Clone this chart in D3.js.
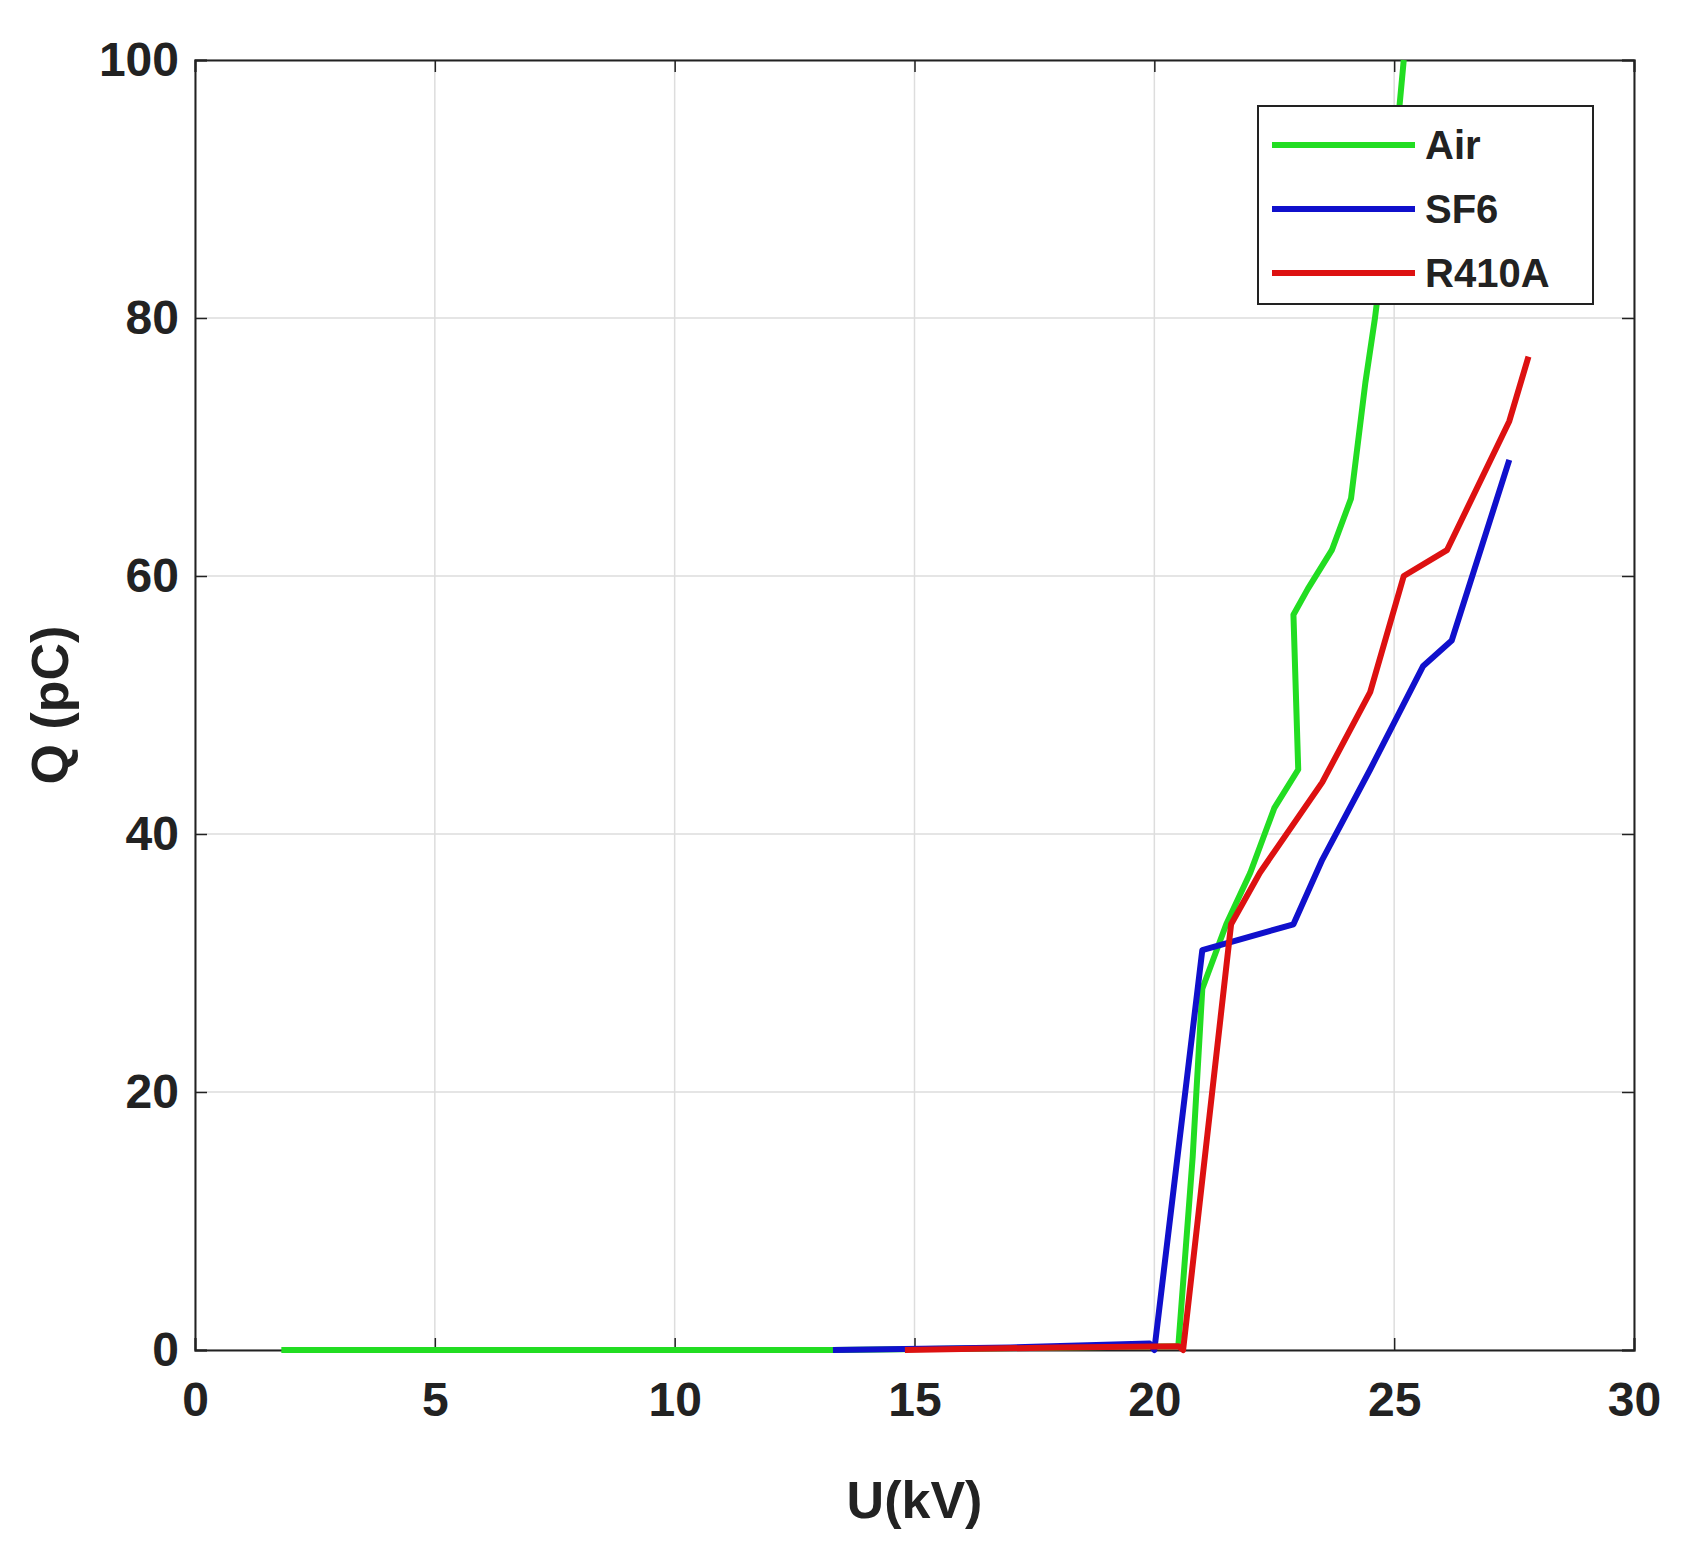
<!DOCTYPE html><html><head><script src="https://cdn.jsdelivr.net/npm/d3@7"></script>
<style>body{margin:0;background:#fff}text{font-family:"Liberation Sans",Arial,sans-serif;font-weight:bold;fill:#222}</style></head><body>
<svg id="c" width="1693" height="1553"></svg>
<script>
const xTicks=[0,5,10,15,20,25,30];
const yTicks=[0,20,40,60,80,100];
const airX=[1.8,13.3,20.5,20.8,21.0,21.5,22.0,22.5,23.0,22.9,23.2,23.7,24.1,24.4,24.6,25.0,25.2];
const airY=[0,0,0.3,15,28,33,37,42,45,57,59,62,66,75,80,92,100];
const sf6X=[13.3,17,19.9,20.0,21.0,22.9,23.5,24.5,25.6,26.2,27.4];
const sf6Y=[0,0.2,0.5,0,31,33,38,45,53,55,69];
const r410X=[14.8,18,20.5,20.6,21.6,22.2,23.5,24.5,25.2,26.1,27.4,27.8];
const r410Y=[0,0.2,0.3,0,33,37,44,51,60,62,72,77];
const names=["Air","SF6","R410A"], colors=["#22dd22","#1010cc","#dd1111"];
const series=[[airX,airY],[sf6X,sf6Y],[r410X,r410Y]];
const svg=d3.select("#c"),L=195,R=1634,T=60,B=1350;
const x=d3.scaleLinear().domain([0,30]).range([L,R]);
const y=d3.scaleLinear().domain([0,100]).range([B,T]);
const g=svg.append("g");
g.selectAll(".gx").data(xTicks).join("line").attr("x1",d=>x(d)).attr("x2",d=>x(d)).attr("y1",T).attr("y2",B).attr("stroke","#ddd").attr("stroke-width",1.5);
g.selectAll(".gy").data(yTicks).join("line").attr("y1",d=>y(d)).attr("y2",d=>y(d)).attr("x1",L).attr("x2",R).attr("stroke","#ddd").attr("stroke-width",1.5);
svg.append("g").attr("transform",`translate(0,${B})`).call(d3.axisBottom(x).tickValues(xTicks).tickSize(-12).tickPadding(32));
svg.append("g").attr("transform",`translate(${L},0)`).call(d3.axisLeft(y).tickValues(yTicks).tickSize(-12).tickPadding(16));
svg.append("g").attr("transform",`translate(0,${T})`).call(d3.axisTop(x).tickValues(xTicks).tickSize(-12).tickFormat(""));
svg.append("g").attr("transform",`translate(${R},0)`).call(d3.axisRight(y).tickValues(yTicks).tickSize(-12).tickFormat(""));
svg.selectAll(".domain").attr("stroke","#222").attr("stroke-width",2);
svg.selectAll(".tick line").attr("stroke","#222").attr("stroke-width",1.5);
svg.selectAll(".tick text").style("font-size","48px").style("font-family","Liberation Sans").style("font-weight","bold").attr("fill","#222");
const line=d3.line();
series.forEach((s,i)=>{svg.append("path").attr("d",line(s[0].map((v,j)=>[x(v),y(s[1][j])]))).attr("fill","none").attr("stroke",colors[i]).attr("stroke-width",6).attr("stroke-linejoin","round");});
svg.append("text").attr("x",(L+R)/2).attr("y",1518).attr("text-anchor","middle").style("font-size","52px").text("U(kV)");
svg.append("text").attr("transform",`translate(68,${(T+B)/2}) rotate(-90)`).attr("text-anchor","middle").style("font-size","52px").text("Q (pC)");
const lg=svg.append("g");
lg.append("rect").attr("x",1258).attr("y",106).attr("width",335).attr("height",198).attr("fill","#fff").attr("stroke","#222").attr("stroke-width",2);
names.forEach((n,i)=>{const yy=145+i*64;lg.append("line").attr("x1",1272).attr("x2",1415).attr("y1",yy).attr("y2",yy).attr("stroke",colors[i]).attr("stroke-width",6);
lg.append("text").attr("x",1425).attr("y",yy+14).style("font-size","40px").text(n);});
</script></body></html>
